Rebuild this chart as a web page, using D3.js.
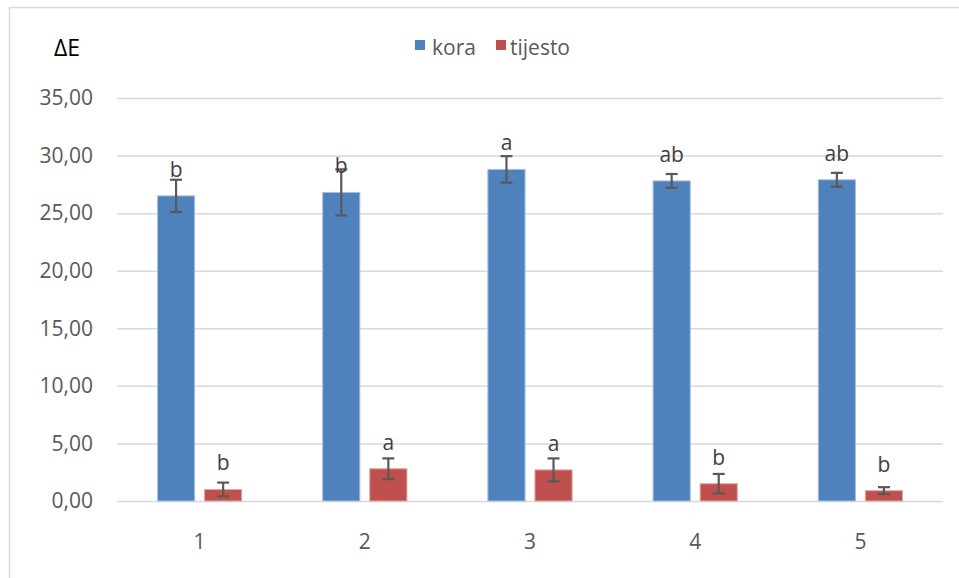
<!DOCTYPE html>
<html>
<head>
<meta charset="utf-8">
<script src="https://cdn.jsdelivr.net/npm/d3@7"></script>
<style>
  html, body { margin: 0; padding: 0; background: #fff; }
  svg { display: block; }
</style>
</head>
<body>
<svg id="chart" width="959" height="578"></svg>
<script>
const categories = ["1", "2", "3", "4", "5"];
const seriesNames = ["kora", "tijesto"];
const koraValues = [26.5, 26.8, 28.8, 27.8, 27.9];
const koraErrors = [1.4, 2.0, 1.15, 0.6, 0.6];
const koraLetters = ["b", "b", "a", "ab", "ab"];
const tijestoValues = [1.0, 2.8, 2.7, 1.5, 0.9];
const tijestoErrors = [0.6, 0.9, 1.0, 0.85, 0.3];
const tijestoLetters = ["b", "a", "a", "b", "b"];
const yTicks = [0, 5, 10, 15, 20, 25, 30, 35];
const colors = ["#4f81bd", "#c0504d"];
const edgeColors = ["#a9c1df", "#e0a8a6"];

const svg = d3.select("#chart");
const font = "'Open Sans', 'Noto Sans', sans-serif";

// outer chart border
svg.append("rect")
  .attr("x", 9.5).attr("y", 7.5).attr("width", 1000).attr("height", 1000)
  .attr("fill", "none").attr("stroke", "#d9d9d9").attr("stroke-width", 1.5);

const y = d3.scaleLinear().domain([0, 35]).range([501, 98]);
const x0 = d3.scaleBand().domain(categories).range([117, 943]);
const x1 = d3.scaleBand().domain(seriesNames).range([0, x0.bandwidth()])
  .paddingInner(0.21).paddingOuter(0.86);

// gridlines
const yAxis = d3.axisLeft(y).tickValues(yTicks)
  .tickSize(-(943 - 117))
  .tickFormat(d => d3.format(".2f")(d).replace(".", ","));
const gy = svg.append("g").attr("transform", "translate(117,0)").call(yAxis);
gy.select(".domain").remove();
gy.selectAll(".tick line").attr("stroke", "#d9d9d9").attr("stroke-width", 1.5);
gy.selectAll(".tick text")
  .attr("x", -24)
  .attr("fill", "#595959")
  .style("font-family", font)
  .style("font-size", "21px");

// x axis labels
const xAxis = d3.axisBottom(x0).tickSize(0).tickPadding(0);
const gx = svg.append("g").attr("transform", "translate(0,501)").call(xAxis);
gx.select(".domain").remove();
gx.selectAll(".tick text")
  .attr("y", 48).attr("dy", 0)
  .attr("fill", "#595959")
  .style("font-family", font)
  .style("font-size", "21px");

const data = [
  { name: "kora", values: koraValues, errors: koraErrors, letters: koraLetters },
  { name: "tijesto", values: tijestoValues, errors: tijestoErrors, letters: tijestoLetters }
];

data.forEach((s, si) => {
  const items = categories.map((c, i) => ({ cat: c, v: s.values[i], e: s.errors[i], l: s.letters[i] }));
  const g = svg.append("g");
  g.selectAll("rect.bar").data(items).join("rect")
    .attr("class", "bar")
    .attr("x", d => x0(d.cat) + x1(s.name))
    .attr("width", x1.bandwidth())
    .attr("y", d => y(d.v))
    .attr("height", d => y(0) - y(d.v))
    .attr("fill", colors[si])
    .attr("stroke", edgeColors[si])
    .attr("stroke-width", 1);

  const cx = d => x0(d.cat) + x1(s.name) + x1.bandwidth() / 2;
  const eg = g.selectAll("g.err").data(items).join("g").attr("class", "err")
    .attr("stroke", "#595959").attr("stroke-width", 2.2);
  eg.append("line").attr("x1", cx).attr("x2", cx)
    .attr("y1", d => y(d.v + d.e)).attr("y2", d => y(d.v - d.e));
  eg.append("line").attr("x1", d => cx(d) - 6).attr("x2", d => cx(d) + 6)
    .attr("y1", d => y(d.v + d.e)).attr("y2", d => y(d.v + d.e));
  eg.append("line").attr("x1", d => cx(d) - 6).attr("x2", d => cx(d) + 6)
    .attr("y1", d => y(d.v - d.e)).attr("y2", d => y(d.v - d.e));

  g.selectAll("text.lbl").data(items).join("text")
    .attr("class", "lbl")
    .attr("x", cx)
    .attr("y", d => y(d.v) - 19)
    .attr("text-anchor", "middle")
    .attr("fill", "#404040")
    .style("font-family", font)
    .style("font-size", "21px")
    .text(d => d.l);
});

// y axis title
svg.append("text")
  .attr("x", 54).attr("y", 56)
  .attr("fill", "#000")
  .style("font-family", font)
  .style("font-size", "23px")
  .text("ΔE");

// legend
const legendX = [415, 496];
const legendTextX = [432, 510];
seriesNames.forEach((n, i) => {
  svg.append("rect").attr("x", legendX[i]).attr("y", 40).attr("width", 10).attr("height", 10)
    .attr("fill", colors[i]);
  svg.append("text").attr("x", legendTextX[i]).attr("y", 55)
    .attr("fill", "#595959")
    .style("font-family", font)
    .style("font-size", "21px")
    .text(n);
});
</script>
</body>
</html>
